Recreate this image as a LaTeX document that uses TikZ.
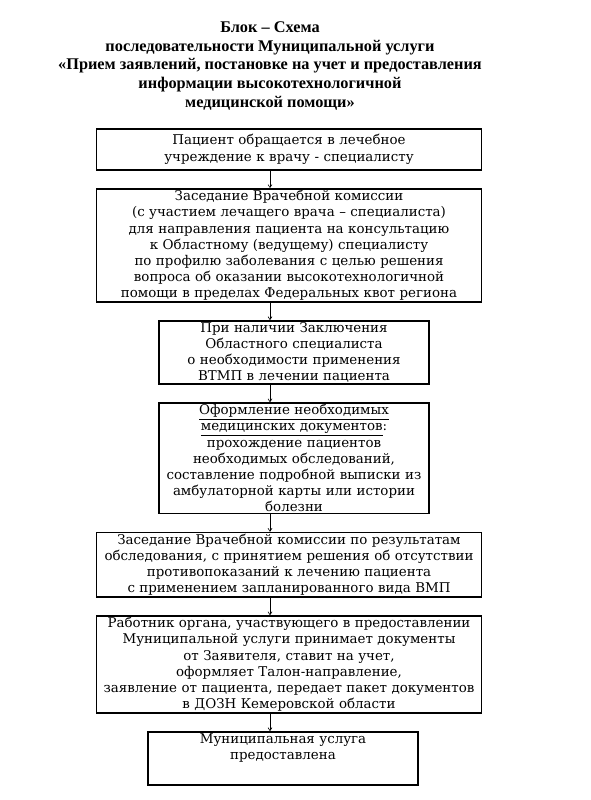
\documentclass[tikz,border=0pt]{standalone}
\usepackage{fontspec}
\setmainfont{DejaVu Serif}
\newfontfamily\titlefont{Liberation Serif}
\usetikzlibrary{positioning,arrows.meta}
\begin{document}
\begin{tikzpicture}[
    wbox/.style={draw, line width=1.6pt, inner xsep=3pt, inner ysep=1.3pt, align=center, text width=379pt, font=\fontsize{13.4}{16.2}\selectfont},
    nbox/.style={wbox, text width=264pt},
    arr/.style={-{Straight Barb[length=3pt,width=4pt]}, line width=0.6pt},
    node distance=17.5pt
    ]
  \useasboundingbox (0,0) rectangle (591pt,-800pt);
  \node [align=center, font=\titlefont\fontsize{16.3}{18.6}\selectfont\bfseries] (hd) at (270pt,-66pt)
    {Блок – Схема\\
     последовательности Муниципальной услуги\\
     «Прием заявлений, постановке на учет и предоставления\\
     информации высокотехнологичной\\
     медицинской помощи»};
  \node [wbox, anchor=north, minimum height=41pt] (b1) at (289pt,-128pt)
    {Пациент обращается в лечебное\\ учреждение к врачу - специалисту};
  \node [wbox, below=of b1] (b2)
    {Заседание Врачебной комиссии\\
     (с участием лечащего врача – специалиста)\\
     для направления пациента на консультацию\\
     к Областному (ведущему) специалисту\\
     по профилю заболевания с целью решения\\
     вопроса об оказании высокотехнологичной\\
     помощи в пределах Федеральных квот региона};
  \node [nbox, below=of b2, xshift=5pt] (b3)
    {При наличии Заключения\\
     Областного специалиста\\
     о необходимости применения\\
     ВТМП в лечении пациента};
  \node [nbox, below=of b3] (b4)
    {\underline{Оформление необходимых}\\
     \underline{медицинских документов}:\\
     прохождение пациентов\\
     необходимых обследований,\\
     составление подробной выписки из\\
     амбулаторной карты или истории\\
     болезни};
  \node [wbox, below=of b4, xshift=-5pt] (b5)
    {Заседание Врачебной комиссии по результатам\\
     обследования, с принятием решения об отсутствии\\
     противопоказаний к лечению пациента\\
     с применением запланированного вида ВМП};
  \node [wbox, below=of b5] (b6)
    {Работник органа, участвующего в предоставлении\\
     Муниципальной услуги принимает документы\\
     от Заявителя, ставит на учет,\\
     оформляет Талон-направление,\\
     заявление от пациента, передает пакет документов\\
     в ДОЗН Кемеровской области};
  \node [nbox, below=of b6, xshift=-6pt] (b7)
    {Муниципальная услуга\\ предоставлена\\[8pt]\mbox{}};
  % arrows
  \draw [arr] (b1.south -| hd.center) -- (b2.north -| hd.center);
  \draw [arr] (b2.south -| hd.center) -- (b3.north -| hd.center);
  \draw [arr] (b3.south -| hd.center) -- (b4.north -| hd.center);
  \draw [arr] (b4.south -| hd.center) -- (b5.north -| hd.center);
  \draw [arr] (b5.south -| hd.center) -- (b6.north -| hd.center);
  \draw [arr] (b6.south -| hd.center) -- (b7.north -| hd.center);
\end{tikzpicture}
\end{document}
